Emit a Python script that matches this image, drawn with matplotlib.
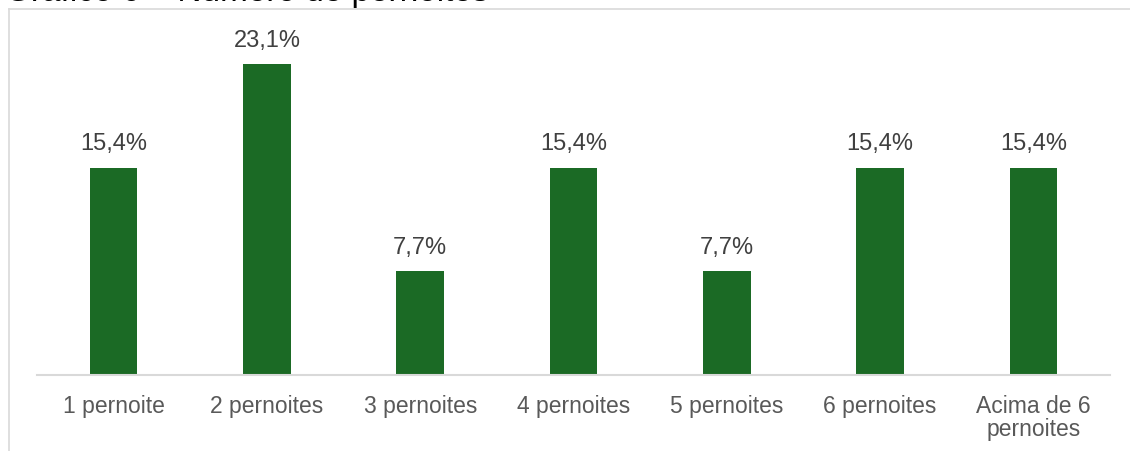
import matplotlib
matplotlib.use('Agg')
import matplotlib.pyplot as plt
from matplotlib.lines import Line2D

categories = ['1 pernoite', '2 pernoites', '3 pernoites', '4 pernoites',
              '5 pernoites', '6 pernoites', 'Acima de 6\npernoites']
values = [15.4, 23.1, 7.7, 15.4, 7.7, 15.4, 15.4]
value_labels = ['15,4%', '23,1%', '7,7%', '15,4%', '7,7%', '15,4%', '15,4%']
title = 'Gráfico 6 – Número de pernoites'

plt.rcParams['font.family'] = ['Liberation Sans', 'DejaVu Sans']

fig = plt.figure(figsize=(11.3, 4.52), dpi=100, facecolor='w')

# light frame: top and left edges only (the rest runs off the image)
fx, fy = 8.5 / 1130, 1 - 10 / 452
fig.lines.append(Line2D([fx, 1.0], [fy, fy], transform=fig.transFigure,
                        color='#d9d9d9', linewidth=1.2))
fig.lines.append(Line2D([fx, fx], [fy, 0.0], transform=fig.transFigure,
                        color='#d9d9d9', linewidth=1.2))

# title, mostly cut off at the top of the image (as in the original)
fig.text(5 / 1130, 1 - 0.5 / 452, title, fontsize=24, color='black',
         ha='left', va='baseline')

ax = fig.add_axes([37 / 1130, 1 - 376 / 452, 1073 / 1130, 346 / 452])
x = list(range(len(categories)))
ax.bar(x, values, width=0.31, color='#1b6a25')
ax.set_xlim(-0.5, len(categories) - 0.5)
ax.set_ylim(0, 25.74)

for xi, v, lab in zip(x, values, value_labels):
    ax.annotate(lab, (xi, v), xytext=(0, 10), textcoords='offset points',
                ha='center', va='bottom', fontsize=17, color='#404040')

ax.set_xticks(x)
ax.set_xticklabels(categories, fontsize=16.5, color='#595959', linespacing=1.0)
ax.tick_params(axis='x', length=0, pad=14)
ax.set_yticks([])
for s in ['top', 'right', 'left']:
    ax.spines[s].set_visible(False)
ax.spines['bottom'].set_color('#d9d9d9')
ax.spines['bottom'].set_linewidth(1.5)
ax.patch.set_alpha(0)

fig.savefig('out.png', dpi=100, facecolor='w')
